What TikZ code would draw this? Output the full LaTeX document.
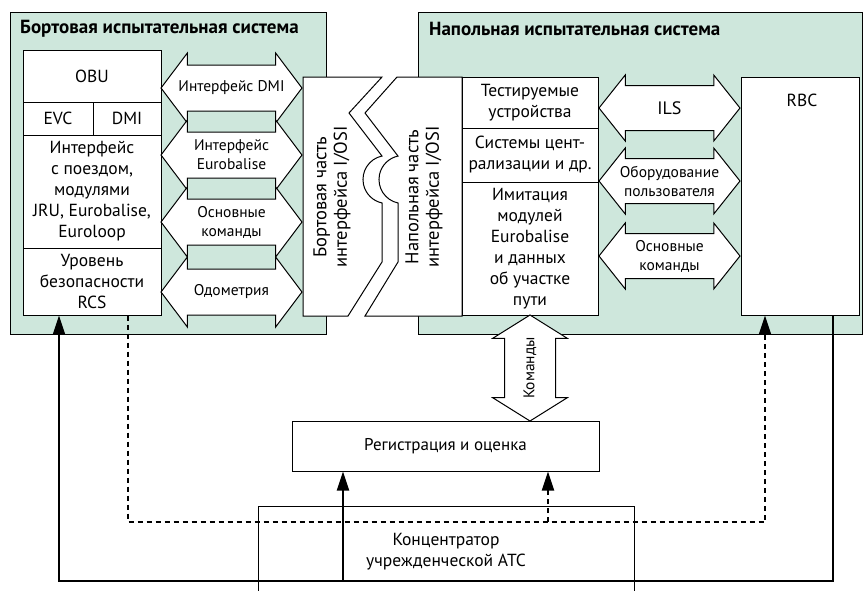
\documentclass[tikz,border=0pt]{standalone}
\usepackage{fontspec}
\setmainfont{PT Sans}
\usetikzlibrary{arrows.meta,positioning,shapes.arrows,calc}
\definecolor{panelgreen}{RGB}{206,231,220}

\begin{document}
\begin{tikzpicture}[x=1pt,y=-1pt,
  panel/.style={draw,fill=panelgreen,line width=1.2pt,anchor=north west,inner sep=0pt},
  title/.style={anchor=west,inner sep=0pt,font=\bfseries\fontsize{19}{22}\selectfont},
  box/.style={draw,fill=white,line width=1pt,inner sep=0pt,align=center,font=\fontsize{17.5}{21}\selectfont},
  dblarr/.style={double arrow,draw,fill=white,line width=1pt,inner xsep=0pt},
  leftarr/.style={dblarr,minimum height=141,inner ysep=22.5,double arrow head extend=12,double arrow tip angle=106},
  rightarr/.style={dblarr,minimum height=141,inner ysep=22,double arrow head extend=10.5,double arrow tip angle=103},
  arrlabel/.style={align=center,inner sep=0pt,font=\fontsize{15.5}{19}\selectfont},
  vtext/.style={rotate=90,align=center,font=\fontsize{18.5}{20.5}\selectfont},
  conn/.style={line width=2pt},
  dconn/.style={line width=2pt,dash pattern=on 5pt off 4pt},
  headin/.style={-{Triangle[length=19pt,width=12pt]}}]
\useasboundingbox (0,0) rectangle (863,590);

% Test systems
\node[panel,minimum width=316,minimum height=322] (onboard) at (10,12) {};
\node[panel,minimum width=444,minimum height=322] (ground) at (418,12) {};
\node[title] (onboardtitle) at (20,29) {Бортовая испытательная система};
\node[title] (groundtitle) at (429,29) {Напольная испытательная система};

% On-board column
\node[box,minimum width=138,minimum height=52] (obu) at (92,76) {OBU};
\node[box,minimum width=70,minimum height=33] (evc) at (58,118.5) {EVC};
\node[box,minimum width=68,minimum height=33] (dmi) at (127,118.5) {DMI};
\node[box,minimum width=138,minimum height=113] (trainif) at (92,191.5) {Интерфейс\\с поездом,\\модулями\\JRU, Eurobalise,\\Euroloop};
\node[box,minimum width=138,minimum height=67] (rcs) at (92,281.5) {Уровень\\безопасности\\RCS};

% On-board interfaces
\node[leftarr] (ifdmi) at (231.5,88) {};
\node[leftarr] (ifbalise) at (231.5,155) {};
\node[leftarr] (obcmd) at (231.5,222) {};
\node[leftarr] (odo) at (231.5,292) {};
\node[arrlabel] (ifdmilabel) at (ifdmi) {Интерфейс DMI};
\node[arrlabel] (ifbaliselabel) at (ifbalise) {Интерфейс\\Eurobalise};
\node[arrlabel] (obcmdlabel) at (obcmd) {Основные\\команды};
\node[arrlabel] (odolabel) at (odo) {Одометрия};

% I/OSI interface halves
\draw[fill=white,line width=1pt] (303,77) -- (382,77) -- (349,113) -- (382,156)
  arc[start angle=258,end angle=102,radius=24] -- (382,262) -- (348,316) -- (303,316) -- cycle;
\draw[fill=white,line width=1pt] (397,77) -- (462,77) -- (462,316) -- (365,316) -- (398,262) -- (398,203)
  arc[start angle=102,end angle=258,radius=24] -- (365,113) -- cycle;
\node[vtext] (obiosi) at (332,197) {Бортовая часть\\интерфейса I/OSI};
\node[vtext] (grdiosi) at (424,197) {Напольная часть\\интерфейса I/OSI};

% Ground column
\node[box,minimum width=136,minimum height=51] (dut) at (530,102.5) {Тестируемые\\устройства};
\node[box,minimum width=136,minimum height=54] (interl) at (530,155) {Системы цент-\\рализации и др.};
\node[box,minimum width=136,minimum height=133] (sim) at (530,248.5) {Имитация\\модулей\\Eurobalise\\и данных\\об участке\\пути};
\node[box,minimum width=118,minimum height=238] (rbc) at (800,196) {};
\node[font=\fontsize{17.5}{21}\selectfont] (rbclabel) at (802,100) {RBC};

% Ground interfaces
\node[rightarr] (ils) at (669.5,108) {};
\node[rightarr] (usereq) at (669.5,181) {};
\node[rightarr] (grcmd) at (669.5,256) {};
\node[arrlabel,font=\fontsize{18}{21}\selectfont] (ilslabel) at (ils) {ILS};
\node[arrlabel] (usereqlabel) at (usereq) {Оборудование\\пользователя};
\node[arrlabel] (grcmdlabel) at (grcmd) {Основные\\команды};

% Evaluation
\node[dblarr,rotate=90,minimum height=106,inner ysep=25,double arrow head extend=12,double arrow tip angle=116] (cmds) at (530,368) {};
\node[arrlabel,rotate=90] (cmdslabel) at (cmds) {Команды};
\node[box,minimum width=307,minimum height=50,font=\fontsize{17}{21}\selectfont] (reg) at (445.5,446) {Регистрация и оценка};
\node[draw,line width=1pt,inner sep=0pt,minimum width=376,minimum height=92,align=center,font=\fontsize{17.5}{21}\selectfont] (pbx) at (446,552) {Концентратор\\учрежденческой АТС};

% Links
\coordinate (busL) at (59,581);
\coordinate (busR) at (833,581);
\coordinate (bustap) at (343,581);
\coordinate (dashL) at (128,522);
\coordinate (dashR) at (765,522);
\coordinate (dashtap) at (548,522);
\draw[conn,headin] (rbc.south -| busR) -- (busR) -- (busL) -- (busL |- rcs.south);
\draw[conn,headin] (bustap) -- (bustap |- reg.south);
\draw[dconn,headin] (rcs.south -| dashL) -- (dashL) -- (dashR) -- (dashR |- rbc.south);
\draw[dconn,headin] (dashtap) -- (dashtap |- reg.south);
\end{tikzpicture}
\end{document}
